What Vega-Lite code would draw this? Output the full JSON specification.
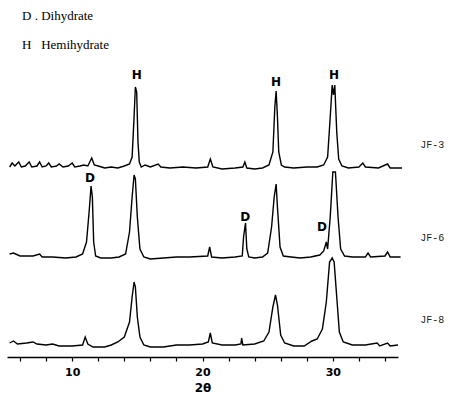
{
  "$schema": "https://vega.github.io/schema/vega-lite/v6.json",
  "width": 391,
  "height": 357,
  "autosize": {"type": "none"},
  "padding": {"left": 7, "top": 0, "right": 65, "bottom": 40},
  "background": "white",
  "config": {"view": {"stroke": null}, "axisX": {"labelOverlap": false, "labelBound": false, "labelFlush": false}},
  "datasets": {
    "traces": [
      {"s":"JF-3","x":5.2,"y":190},{"s":"JF-3","x":5.4,"y":194},{"s":"JF-3","x":5.6,"y":191},{"s":"JF-3","x":5.9,"y":195},{"s":"JF-3","x":6.1,"y":190},{"s":"JF-3","x":6.4,"y":191},{"s":"JF-3","x":6.7,"y":195},{"s":"JF-3","x":6.9,"y":190},{"s":"JF-3","x":7.3,"y":191},{"s":"JF-3","x":7.5,"y":195},{"s":"JF-3","x":7.7,"y":190},{"s":"JF-3","x":8.0,"y":191},{"s":"JF-3","x":8.2,"y":194},{"s":"JF-3","x":8.4,"y":190},{"s":"JF-3","x":8.8,"y":191},{"s":"JF-3","x":9.0,"y":193},{"s":"JF-3","x":9.3,"y":190},{"s":"JF-3","x":9.7,"y":191},{"s":"JF-3","x":10.0,"y":194},{"s":"JF-3","x":10.2,"y":190},{"s":"JF-3","x":10.6,"y":191},{"s":"JF-3","x":10.9,"y":192},{"s":"JF-3","x":11.2,"y":191},{"s":"JF-3","x":11.5,"y":199},{"s":"JF-3","x":11.7,"y":192},{"s":"JF-3","x":12.0,"y":191},{"s":"JF-3","x":12.5,"y":189},{"s":"JF-3","x":13.0,"y":190},{"s":"JF-3","x":13.5,"y":189},{"s":"JF-3","x":14.0,"y":191},{"s":"JF-3","x":14.4,"y":193},{"s":"JF-3","x":14.6,"y":200},{"s":"JF-3","x":14.75,"y":240},{"s":"JF-3","x":14.85,"y":270},{"s":"JF-3","x":14.95,"y":265},{"s":"JF-3","x":15.05,"y":215},{"s":"JF-3","x":15.15,"y":195},{"s":"JF-3","x":15.3,"y":190},{"s":"JF-3","x":15.6,"y":192},{"s":"JF-3","x":16.0,"y":190},{"s":"JF-3","x":16.6,"y":193},{"s":"JF-3","x":16.8,"y":190},{"s":"JF-3","x":17.5,"y":189},{"s":"JF-3","x":18.5,"y":190},{"s":"JF-3","x":19.5,"y":189},{"s":"JF-3","x":20.4,"y":190},{"s":"JF-3","x":20.6,"y":198},{"s":"JF-3","x":20.8,"y":190},{"s":"JF-3","x":21.5,"y":188},{"s":"JF-3","x":22.5,"y":189},{"s":"JF-3","x":23.1,"y":190},{"s":"JF-3","x":23.25,"y":195},{"s":"JF-3","x":23.4,"y":189},{"s":"JF-3","x":24.0,"y":188},{"s":"JF-3","x":24.6,"y":189},{"s":"JF-3","x":25.1,"y":192},{"s":"JF-3","x":25.4,"y":205},{"s":"JF-3","x":25.55,"y":250},{"s":"JF-3","x":25.65,"y":266},{"s":"JF-3","x":25.75,"y":240},{"s":"JF-3","x":25.85,"y":205},{"s":"JF-3","x":26.05,"y":192},{"s":"JF-3","x":26.3,"y":190},{"s":"JF-3","x":27.0,"y":189},{"s":"JF-3","x":28.0,"y":190},{"s":"JF-3","x":28.8,"y":190},{"s":"JF-3","x":29.3,"y":192},{"s":"JF-3","x":29.6,"y":200},{"s":"JF-3","x":29.8,"y":240},{"s":"JF-3","x":29.95,"y":272},{"s":"JF-3","x":30.05,"y":262},{"s":"JF-3","x":30.15,"y":272},{"s":"JF-3","x":30.3,"y":225},{"s":"JF-3","x":30.45,"y":198},{"s":"JF-3","x":30.7,"y":191},{"s":"JF-3","x":31.2,"y":189},{"s":"JF-3","x":32.0,"y":190},{"s":"JF-3","x":32.3,"y":194},{"s":"JF-3","x":32.5,"y":190},{"s":"JF-3","x":33.5,"y":189},{"s":"JF-3","x":34.2,"y":193},{"s":"JF-3","x":34.4,"y":189},{"s":"JF-3","x":35.3,"y":189},

      {"s":"JF-6","x":5.2,"y":103},{"s":"JF-6","x":5.5,"y":104},{"s":"JF-6","x":6.0,"y":101},{"s":"JF-6","x":7.0,"y":101},{"s":"JF-6","x":7.5,"y":103},{"s":"JF-6","x":7.7,"y":100},{"s":"JF-6","x":8.5,"y":100},{"s":"JF-6","x":9.5,"y":99},{"s":"JF-6","x":10.3,"y":100},{"s":"JF-6","x":10.8,"y":103},{"s":"JF-6","x":11.1,"y":115},{"s":"JF-6","x":11.3,"y":145},{"s":"JF-6","x":11.45,"y":171},{"s":"JF-6","x":11.55,"y":160},{"s":"JF-6","x":11.65,"y":115},{"s":"JF-6","x":11.8,"y":101},{"s":"JF-6","x":12.2,"y":99},{"s":"JF-6","x":13.0,"y":99},{"s":"JF-6","x":13.6,"y":100},{"s":"JF-6","x":14.1,"y":103},{"s":"JF-6","x":14.4,"y":125},{"s":"JF-6","x":14.6,"y":160},{"s":"JF-6","x":14.75,"y":182},{"s":"JF-6","x":14.85,"y":178},{"s":"JF-6","x":15.0,"y":140},{"s":"JF-6","x":15.2,"y":108},{"s":"JF-6","x":15.5,"y":100},{"s":"JF-6","x":16.0,"y":98},{"s":"JF-6","x":17.0,"y":99},{"s":"JF-6","x":18.0,"y":100},{"s":"JF-6","x":19.0,"y":100},{"s":"JF-6","x":20.4,"y":101},{"s":"JF-6","x":20.55,"y":110},{"s":"JF-6","x":20.7,"y":100},{"s":"JF-6","x":21.5,"y":99},{"s":"JF-6","x":22.5,"y":100},{"s":"JF-6","x":23.05,"y":101},{"s":"JF-6","x":23.15,"y":120},{"s":"JF-6","x":23.3,"y":134},{"s":"JF-6","x":23.4,"y":108},{"s":"JF-6","x":23.55,"y":100},{"s":"JF-6","x":24.0,"y":99},{"s":"JF-6","x":24.6,"y":100},{"s":"JF-6","x":25.0,"y":104},{"s":"JF-6","x":25.3,"y":130},{"s":"JF-6","x":25.5,"y":160},{"s":"JF-6","x":25.65,"y":173},{"s":"JF-6","x":25.75,"y":150},{"s":"JF-6","x":25.95,"y":110},{"s":"JF-6","x":26.2,"y":101},{"s":"JF-6","x":26.8,"y":100},{"s":"JF-6","x":27.5,"y":99},{"s":"JF-6","x":28.3,"y":100},{"s":"JF-6","x":29.0,"y":102},{"s":"JF-6","x":29.3,"y":106},{"s":"JF-6","x":29.5,"y":115},{"s":"JF-6","x":29.6,"y":108},{"s":"JF-6","x":29.8,"y":140},{"s":"JF-6","x":30.0,"y":185},{"s":"JF-6","x":30.2,"y":185},{"s":"JF-6","x":30.4,"y":140},{"s":"JF-6","x":30.6,"y":108},{"s":"JF-6","x":30.9,"y":101},{"s":"JF-6","x":31.5,"y":100},{"s":"JF-6","x":32.5,"y":100},{"s":"JF-6","x":32.7,"y":104},{"s":"JF-6","x":32.9,"y":100},{"s":"JF-6","x":34.0,"y":101},{"s":"JF-6","x":34.2,"y":105},{"s":"JF-6","x":34.4,"y":100},{"s":"JF-6","x":35.2,"y":100},

      {"s":"JF-8","x":5.2,"y":14},{"s":"JF-8","x":5.5,"y":16},{"s":"JF-8","x":5.8,"y":13},{"s":"JF-8","x":6.5,"y":14},{"s":"JF-8","x":7.0,"y":15},{"s":"JF-8","x":7.3,"y":13},{"s":"JF-8","x":8.0,"y":12},{"s":"JF-8","x":8.5,"y":13},{"s":"JF-8","x":9.0,"y":11},{"s":"JF-8","x":10.0,"y":11},{"s":"JF-8","x":10.8,"y":12},{"s":"JF-8","x":11.0,"y":20},{"s":"JF-8","x":11.2,"y":13},{"s":"JF-8","x":11.6,"y":10},{"s":"JF-8","x":12.5,"y":10},{"s":"JF-8","x":13.0,"y":12},{"s":"JF-8","x":13.5,"y":15},{"s":"JF-8","x":14.0,"y":20},{"s":"JF-8","x":14.4,"y":35},{"s":"JF-8","x":14.6,"y":60},{"s":"JF-8","x":14.75,"y":75},{"s":"JF-8","x":14.85,"y":70},{"s":"JF-8","x":15.0,"y":40},{"s":"JF-8","x":15.2,"y":20},{"s":"JF-8","x":15.5,"y":12},{"s":"JF-8","x":16.0,"y":10},{"s":"JF-8","x":17.0,"y":10},{"s":"JF-8","x":18.0,"y":12},{"s":"JF-8","x":19.0,"y":12},{"s":"JF-8","x":20.0,"y":13},{"s":"JF-8","x":20.45,"y":15},{"s":"JF-8","x":20.6,"y":24},{"s":"JF-8","x":20.75,"y":14},{"s":"JF-8","x":21.5,"y":12},{"s":"JF-8","x":22.5,"y":12},{"s":"JF-8","x":22.95,"y":13},{"s":"JF-8","x":23.0,"y":19},{"s":"JF-8","x":23.1,"y":12},{"s":"JF-8","x":24.0,"y":13},{"s":"JF-8","x":24.7,"y":16},{"s":"JF-8","x":25.1,"y":25},{"s":"JF-8","x":25.4,"y":50},{"s":"JF-8","x":25.6,"y":62},{"s":"JF-8","x":25.75,"y":52},{"s":"JF-8","x":26.0,"y":22},{"s":"JF-8","x":26.3,"y":14},{"s":"JF-8","x":27.0,"y":11},{"s":"JF-8","x":27.8,"y":11},{"s":"JF-8","x":28.4,"y":16},{"s":"JF-8","x":28.8,"y":18},{"s":"JF-8","x":29.2,"y":28},{"s":"JF-8","x":29.5,"y":55},{"s":"JF-8","x":29.75,"y":95},{"s":"JF-8","x":29.95,"y":99},{"s":"JF-8","x":30.1,"y":95},{"s":"JF-8","x":30.3,"y":60},{"s":"JF-8","x":30.5,"y":25},{"s":"JF-8","x":30.8,"y":15},{"s":"JF-8","x":31.5,"y":12},{"s":"JF-8","x":32.5,"y":12},{"s":"JF-8","x":33.4,"y":14},{"s":"JF-8","x":33.6,"y":11},{"s":"JF-8","x":34.2,"y":14},{"s":"JF-8","x":34.4,"y":11},{"s":"JF-8","x":35.0,"y":12}
    ],
    "peaklabels": [
      {"x":14.95,"y":282,"t":"H"},{"x":25.64,"y":275,"t":"H"},{"x":30.1,"y":282,"t":"H"},
      {"x":11.37,"y":179,"t":"D"},{"x":23.27,"y":140,"t":"D"},{"x":29.17,"y":130,"t":"D"}
    ],
    "samples": [
      {"x":36.7,"y":212,"t":"JF-3"},{"x":36.7,"y":119,"t":"JF-6"},{"x":36.7,"y":37,"t":"JF-8"}
    ],
    "legend": [
      {"x":6.15,"y":341,"t":"D . Dihydrate"},{"x":6.15,"y":312,"t":"H\u00a0\u00a0 Hemihydrate"}
    ]
  },
  "encoding": {
    "x": {"field": "x", "type": "quantitative",
          "scale": {"domain": [5, 35], "nice": false, "zero": false},
          "axis": {"title": "2θ", "values": [6,8,10,12,14,16,18,20,22,24,26,28,30,32,34],
                   "labelExpr": "datum.value == 10 || datum.value == 20 || datum.value == 30 ? datum.label : '\u00a0'",
                   "labelOverlap": false,
                   "domainColor": "black", "domainWidth": 1.6, "tickColor": "black", "tickSize": 4, "tickWidth": 1.2,
                   "labelFont": "DejaVu Sans", "labelFontSize": 11, "labelFontWeight": "bold", "labelColor": "black", "labelPadding": 5,
                   "titleFont": "DejaVu Sans", "titleFontSize": 12, "titleFontWeight": "bold", "titleColor": "black", "titlePadding": 5,
                   "grid": false}},
    "y": {"field": "y", "type": "quantitative",
          "scale": {"domain": [0, 357], "nice": false, "zero": false},
          "axis": null}
  },
  "layer": [
    {
      "data": {"name": "traces"},
      "mark": {"type": "line", "color": "black", "strokeWidth": 1.4, "clip": false},
      "encoding": {"detail": {"field": "s"}}
    },
    {
      "data": {"name": "peaklabels"},
      "mark": {"type": "text", "font": "DejaVu Sans", "fontSize": 12, "fontWeight": "bold", "color": "black", "baseline": "middle", "align": "center"},
      "encoding": {"text": {"field": "t"}}
    },
    {
      "data": {"name": "samples"},
      "mark": {"type": "text", "font": "Liberation Mono", "fontSize": 10, "color": "#222", "baseline": "middle", "align": "left"},
      "encoding": {"text": {"field": "t"}}
    },
    {
      "data": {"name": "legend"},
      "mark": {"type": "text", "font": "Liberation Serif", "fontSize": 13, "color": "black", "baseline": "middle", "align": "left"},
      "encoding": {"text": {"field": "t"}}
    }
  ]
}
